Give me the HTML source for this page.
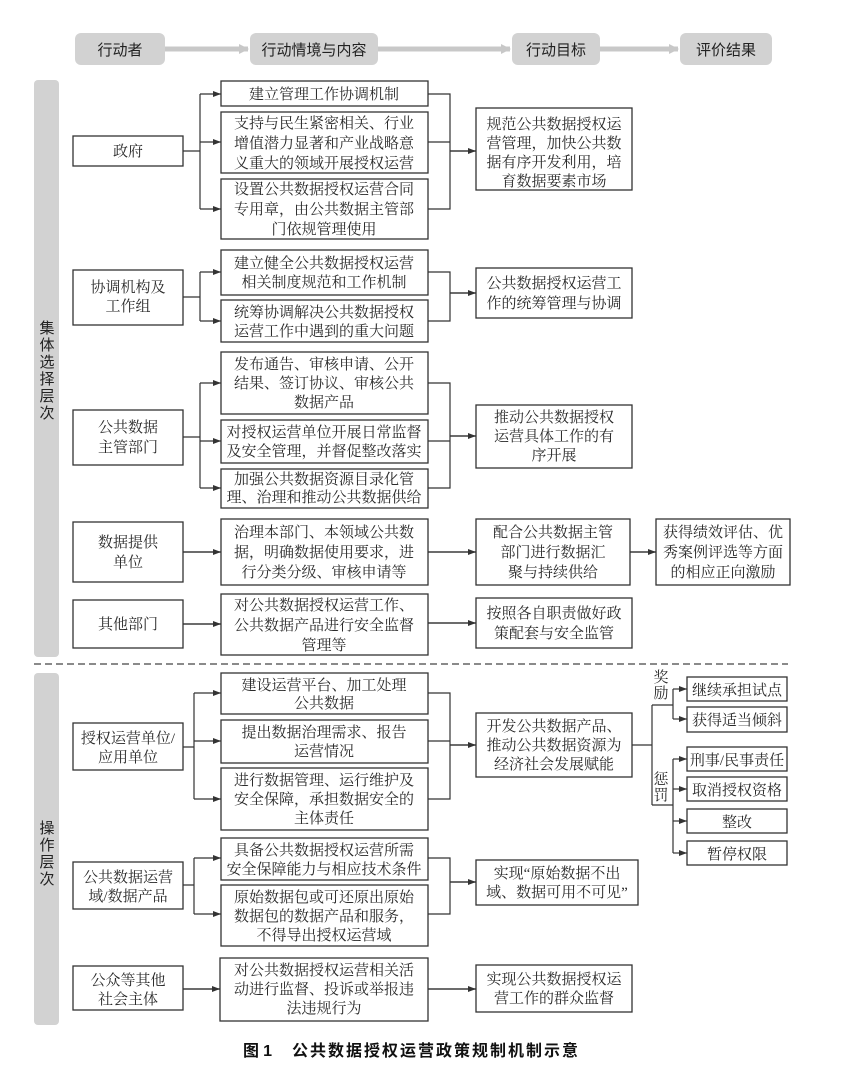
<!DOCTYPE html>
<html><head><meta charset="utf-8"><style>
html,body{margin:0;padding:0;background:#fff;}
svg{display:block;font-family:"Liberation Sans","Noto Sans CJK SC",sans-serif;}
.b{fill:#fff;stroke:#333;stroke-width:1.3;}
.t{font-size:15px;fill:#2a2a2a;text-anchor:middle;font-family:"Liberation Serif","Noto Serif CJK SC",serif;}
.l{stroke:#333;stroke-width:1.2;fill:none;}
.h{font-size:15px;fill:#222;text-anchor:middle;}
</style></head><body>
<svg width="849" height="1079" viewBox="0 0 849 1079" xmlns="http://www.w3.org/2000/svg">
<defs><marker id="a" markerWidth="8" markerHeight="6" refX="8" refY="3" orient="auto" markerUnits="userSpaceOnUse"><path d="M0,0 L8,3 L0,6 z" fill="#333"/></marker>
<marker id="g" markerWidth="10" markerHeight="10" refX="9" refY="5" orient="auto" markerUnits="userSpaceOnUse"><path d="M0,0 L10,5 L0,10 z" fill="#c8c8c8"/></marker></defs>

<!-- header -->
<g fill="#d2d2d2">
<rect x="75" y="33" width="90" height="32" rx="6"/>
<rect x="250" y="33" width="128" height="32" rx="6"/>
<rect x="512" y="33" width="88" height="32" rx="6"/>
<rect x="680" y="33" width="92" height="32" rx="6"/>
</g>
<g stroke="#c8c8c8" stroke-width="5" marker-end="url(#g)">
<line x1="165" y1="49" x2="248" y2="49"/><line x1="378" y1="49" x2="510" y2="49"/><line x1="600" y1="49" x2="678" y2="49"/>
</g>
<text class="h" x="120" y="55">行动者</text><text class="h" x="314" y="55">行动情境与内容</text>
<text class="h" x="556" y="55">行动目标</text><text class="h" x="726" y="55">评价结果</text>

<!-- sidebars -->
<rect x="34" y="80" width="25" height="577" rx="4" fill="#d2d2d2"/>
<rect x="34" y="673" width="25" height="352" rx="4" fill="#d2d2d2"/>
<text class="h" x="47" y="333"><tspan x="47">集</tspan><tspan x="47" dy="17">体</tspan><tspan x="47" dy="17">选</tspan><tspan x="47" dy="17">择</tspan><tspan x="47" dy="17">层</tspan><tspan x="47" dy="17">次</tspan></text>
<text class="h" x="47" y="833"><tspan x="47">操</tspan><tspan x="47" dy="17">作</tspan><tspan x="47" dy="17">层</tspan><tspan x="47" dy="17">次</tspan></text>
<line x1="34" y1="664" x2="788" y2="664" stroke="#444" stroke-width="1.2" stroke-dasharray="7,4"/>

<!-- actors -->
<g>
<rect class="b" x="73" y="136" width="110" height="30"/><text class="t" x="128" y="156">政府</text>
<rect class="b" x="73" y="270" width="110" height="55"/><text class="t" x="128" y="292">协调机构及</text><text class="t" x="128" y="311">工作组</text>
<rect class="b" x="73" y="410" width="110" height="55"/><text class="t" x="128" y="432">公共数据</text><text class="t" x="128" y="452">主管部门</text>
<rect class="b" x="73" y="522" width="110" height="60"/><text class="t" x="128" y="547">数据提供</text><text class="t" x="128" y="567">单位</text>
<rect class="b" x="73" y="600" width="110" height="48"/><text class="t" x="128" y="629">其他部门</text>
<rect class="b" x="73" y="723" width="110" height="47"/><text class="t" x="128" y="743">授权运营单位/</text><text class="t" x="128" y="762">应用单位</text>
<rect class="b" x="73" y="862" width="110" height="47"/><text class="t" x="128" y="882">公共数据运营</text><text class="t" x="128" y="901">域/数据产品</text>
<rect class="b" x="73" y="966" width="110" height="44"/><text class="t" x="128" y="985">公众等其他</text><text class="t" x="128" y="1004">社会主体</text>
</g>

<!-- middle -->
<g>
<rect class="b" x="221" y="81" width="207" height="25"/><text class="t" x="324" y="99">建立管理工作协调机制</text>
<rect class="b" x="221" y="112" width="207" height="61"/><text class="t" x="324" y="128">支持与民生紧密相关、行业</text><text class="t" x="324" y="148">增值潜力显著和产业战略意</text><text class="t" x="324" y="168">义重大的领域开展授权运营</text>
<rect class="b" x="221" y="179" width="207" height="60"/><text class="t" x="324" y="194">设置公共数据授权运营合同</text><text class="t" x="324" y="214">专用章，由公共数据主管部</text><text class="t" x="324" y="234">门依规管理使用</text>
<rect class="b" x="221" y="250" width="207" height="45"/><text class="t" x="324" y="268">建立健全公共数据授权运营</text><text class="t" x="324" y="287">相关制度规范和工作机制</text>
<rect class="b" x="221" y="300" width="207" height="42"/><text class="t" x="324" y="317">统筹协调解决公共数据授权</text><text class="t" x="324" y="336">运营工作中遇到的重大问题</text>
<rect class="b" x="221" y="352" width="207" height="62"/><text class="t" x="324" y="369">发布通告、审核申请、公开</text><text class="t" x="324" y="388">结果、签订协议、审核公共</text><text class="t" x="324" y="407">数据产品</text>
<rect class="b" x="221" y="420" width="207" height="43"/><text class="t" x="324" y="437">对授权运营单位开展日常监督</text><text class="t" x="324" y="456">及安全管理，并督促整改落实</text>
<rect class="b" x="221" y="469" width="207" height="39"/><text class="t" x="324" y="484">加强公共数据资源目录化管</text><text class="t" x="324" y="502">理、治理和推动公共数据供给</text>
<rect class="b" x="221" y="519" width="207" height="66"/><text class="t" x="324" y="537">治理本部门、本领域公共数</text><text class="t" x="324" y="557">据，明确数据使用要求，进</text><text class="t" x="324" y="577">行分类分级、审核申请等</text>
<rect class="b" x="221" y="594" width="207" height="61"/><text class="t" x="324" y="610">对公共数据授权运营工作、</text><text class="t" x="324" y="630">公共数据产品进行安全监督</text><text class="t" x="324" y="650">管理等</text>
<rect class="b" x="221" y="673" width="207" height="41"/><text class="t" x="324" y="690">建设运营平台、加工处理</text><text class="t" x="324" y="708">公共数据</text>
<rect class="b" x="221" y="720" width="207" height="43"/><text class="t" x="324" y="737">提出数据治理需求、报告</text><text class="t" x="324" y="756">运营情况</text>
<rect class="b" x="221" y="768" width="207" height="62"/><text class="t" x="324" y="785">进行数据管理、运行维护及</text><text class="t" x="324" y="804">安全保障，承担数据安全的</text><text class="t" x="324" y="823">主体责任</text>
<rect class="b" x="221" y="838" width="207" height="42"/><text class="t" x="324" y="855">具备公共数据授权运营所需</text><text class="t" x="324" y="874">安全保障能力与相应技术条件</text>
<rect class="b" x="221" y="885" width="207" height="61"/><text class="t" x="324" y="902">原始数据包或可还原出原始</text><text class="t" x="324" y="921">数据包的数据产品和服务，</text><text class="t" x="324" y="940">不得导出授权运营域</text>
<rect class="b" x="220" y="958" width="208" height="63"/><text class="t" x="324" y="975">对公共数据授权运营相关活</text><text class="t" x="324" y="994">动进行监督、投诉或举报违</text><text class="t" x="324" y="1013">法违规行为</text>
</g>

<!-- goals -->
<g>
<rect class="b" x="476" y="108" width="156" height="82"/><text class="t" x="554" y="129">规范公共数据授权运</text><text class="t" x="554" y="148">营管理，加快公共数</text><text class="t" x="554" y="167">据有序开发利用，培</text><text class="t" x="554" y="186">育数据要素市场</text>
<rect class="b" x="476" y="268" width="156" height="50"/><text class="t" x="554" y="288">公共数据授权运营工</text><text class="t" x="554" y="308">作的统筹管理与协调</text>
<rect class="b" x="476" y="405" width="156" height="63"/><text class="t" x="554" y="422">推动公共数据授权</text><text class="t" x="554" y="441">运营具体工作的有</text><text class="t" x="554" y="460">序开展</text>
<rect class="b" x="476" y="519" width="154" height="66"/><text class="t" x="553" y="537">配合公共数据主管</text><text class="t" x="553" y="557">部门进行数据汇</text><text class="t" x="553" y="577">聚与持续供给</text>
<rect class="b" x="476" y="598" width="156" height="50"/><text class="t" x="554" y="618">按照各自职责做好政</text><text class="t" x="554" y="638">策配套与安全监管</text>
<rect class="b" x="476" y="713" width="156" height="64"/><text class="t" x="554" y="731">开发公共数据产品、</text><text class="t" x="554" y="750">推动公共数据资源为</text><text class="t" x="554" y="769">经济社会发展赋能</text>
<rect class="b" x="476" y="860" width="162" height="45"/><text class="t" x="557" y="878">实现“原始数据不出</text><text class="t" x="557" y="897">域、数据可用不可见”</text>
<rect class="b" x="476" y="965" width="156" height="47"/><text class="t" x="554" y="984">实现公共数据授权运</text><text class="t" x="554" y="1003">营工作的群众监督</text>
<rect class="b" x="656" y="519" width="134" height="66"/><text class="t" x="723" y="537">获得绩效评估、优</text><text class="t" x="723" y="557">秀案例评选等方面</text><text class="t" x="723" y="577">的相应正向激励</text>
</g>

<!-- reward/punish -->
<g>
<rect class="b" x="687" y="677" width="100" height="24"/><text class="t" x="737" y="695">继续承担试点</text>
<rect class="b" x="687" y="707" width="100" height="25"/><text class="t" x="737" y="725">获得适当倾斜</text>
<rect class="b" x="687" y="747" width="100" height="24"/><text class="t" x="737" y="765">刑事/民事责任</text>
<rect class="b" x="687" y="777" width="100" height="24"/><text class="t" x="737" y="795">取消授权资格</text>
<rect class="b" x="687" y="809" width="100" height="24"/><text class="t" x="737" y="827">整改</text>
<rect class="b" x="687" y="841" width="100" height="24"/><text class="t" x="737" y="859">暂停权限</text>
<text class="t" x="661" y="682">奖</text><text class="t" x="661" y="698">励</text>
<text class="t" x="661" y="784">惩</text><text class="t" x="661" y="800">罚</text>
</g>

<!-- connectors -->
<g class="l">
<path d="M183,151H200M200,94V209"/><path d="M428,94H450V209H428M428,142H450M450,151H476" />
<path d="M183,297H200M200,272V321"/><path d="M428,272H450V321H428M450,293H476"/>
<path d="M183,437H200M200,383V488"/><path d="M428,383H450V488H428M428,441H450M450,436H476"/>
<path d="M183,552H221M428,552H476M630,552H656"/>
<path d="M183,624H221M428,623H476"/>
<path d="M183,747H194M194,693V799"/><path d="M428,693H450V799H428M428,741H450M450,745H476"/>
<path d="M183,885H194M194,858V914"/><path d="M428,858H450V914H428M450,882H476"/>
<path d="M183,989H220M428,989H476"/>
<path d="M632,745H652M652,705V805M652,705H673M652,805H673M673,689V719M673,759V853"/>
</g>
<g class="l" marker-end="url(#a)">
<line x1="200" y1="94" x2="221" y2="94"/><line x1="200" y1="142" x2="221" y2="142"/><line x1="200" y1="209" x2="221" y2="209"/><line x1="450" y1="151" x2="476" y2="151"/>
<line x1="200" y1="272" x2="221" y2="272"/><line x1="200" y1="321" x2="221" y2="321"/><line x1="450" y1="293" x2="476" y2="293"/>
<line x1="200" y1="383" x2="221" y2="383"/><line x1="200" y1="441" x2="221" y2="441"/><line x1="200" y1="488" x2="221" y2="488"/><line x1="450" y1="436" x2="476" y2="436"/>
<line x1="183" y1="552" x2="221" y2="552"/><line x1="428" y1="552" x2="476" y2="552"/><line x1="630" y1="552" x2="656" y2="552"/>
<line x1="183" y1="624" x2="221" y2="624"/><line x1="428" y1="623" x2="476" y2="623"/>
<line x1="194" y1="693" x2="221" y2="693"/><line x1="194" y1="741" x2="221" y2="741"/><line x1="194" y1="799" x2="221" y2="799"/><line x1="450" y1="745" x2="476" y2="745"/>
<line x1="194" y1="858" x2="221" y2="858"/><line x1="194" y1="914" x2="221" y2="914"/><line x1="450" y1="882" x2="476" y2="882"/>
<line x1="183" y1="989" x2="220" y2="989"/><line x1="428" y1="989" x2="476" y2="989"/>
<line x1="673" y1="689" x2="687" y2="689"/><line x1="673" y1="719" x2="687" y2="719"/>
<line x1="673" y1="759" x2="687" y2="759"/><line x1="673" y1="789" x2="687" y2="789"/><line x1="673" y1="821" x2="687" y2="821"/><line x1="673" y1="853" x2="687" y2="853"/>
</g>

<text x="243" y="1056" textLength="29" lengthAdjust="spacing" style="font-size:16px;font-weight:bold;fill:#111">图 1</text>
<text x="292" y="1056" textLength="286" lengthAdjust="spacing" style="font-size:16px;font-weight:bold;fill:#111">公共数据授权运营政策规制机制示意</text>
</svg>
</body></html>
